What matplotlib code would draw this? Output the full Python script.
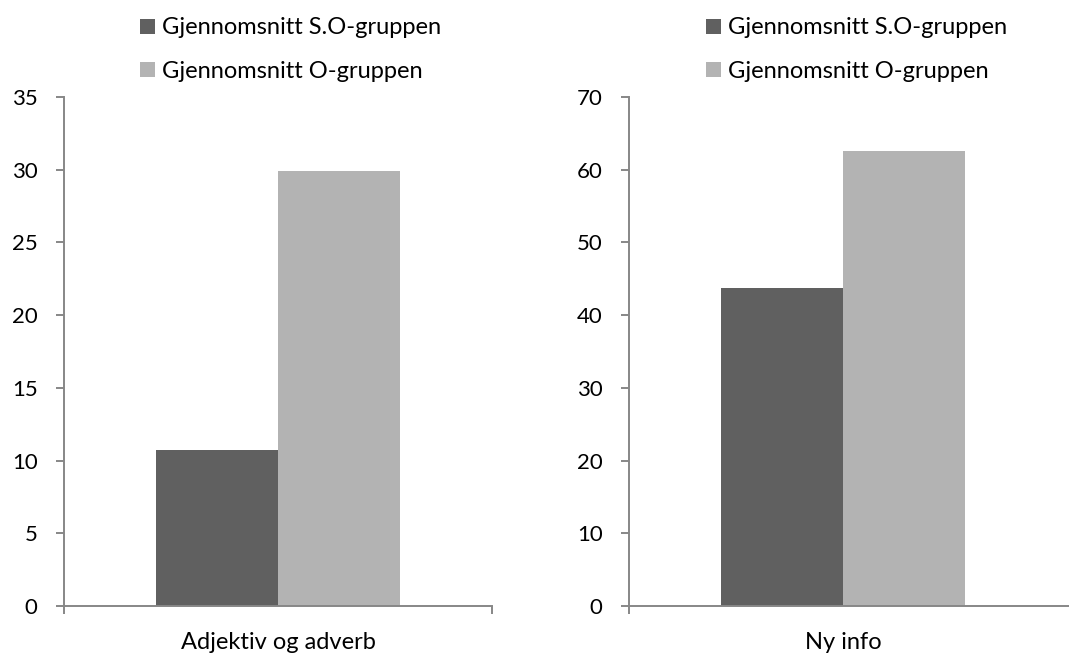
import matplotlib.pyplot as plt
from matplotlib.patches import Patch

plt.rcParams['font.family'] = ['Lato', 'DejaVu Sans']

series = ['Gjennomsnitt S.O-gruppen', 'Gjennomsnitt O-gruppen']
colors = ['#606060', '#b3b3b3']
left_cat = 'Adjektiv og adverb'
left_vals = [10.7, 29.9]
right_cat = 'Ny info'
right_vals = [43.8, 62.6]

W, H = 1069, 655
fig = plt.figure(figsize=(W / 100, H / 100), dpi=100)
axis_grey = '#878787'
fs = 17


def draw(ax, cat, vals, ymax, step, xmax, end_tick):
    bw = 0.2857
    ax.bar([-bw / 2, bw / 2], vals, width=bw, color=colors, zorder=2)
    ax.set_xlim(-0.5, xmax)
    ax.set_ylim(0, ymax)
    ax.set_yticks(range(0, ymax + 1, step))
    for s in ['top', 'right']:
        ax.spines[s].set_visible(False)
    for s in ['left', 'bottom']:
        ax.spines[s].set_color(axis_grey)
        ax.spines[s].set_linewidth(1.4)
    ax.tick_params(axis='y', length=6, width=1.4, color=axis_grey, pad=13,
                   labelsize=16)
    # category label on a zero-length major tick, edge ticks as minor ticks
    ax.set_xticks([0])
    ax.set_xticklabels([cat])
    ax.tick_params(axis='x', which='major', length=0, pad=19, labelsize=fs)
    ax.set_xticks([-0.5, 0.5] if end_tick else [-0.5], minor=True)
    ax.tick_params(axis='x', which='minor', length=6, width=1.4,
                   color=axis_grey, direction='out')


def legend(x0):
    handles = [Patch(facecolor=c, edgecolor='none') for c in colors]
    fig.legend(handles, series, loc='upper left',
               bbox_to_anchor=(x0 / W, 1 - 8 / H), frameon=False,
               fontsize=fs, handlelength=0.6, handleheight=0.6,
               handletextpad=0.3, labelspacing=0.95, borderaxespad=0)


bottom = 1 - 606 / H
height = 509 / H
ax1 = fig.add_axes([64 / W, bottom, 428 / W, height])
draw(ax1, left_cat, left_vals, 35, 5, 0.5, True)
ax2 = fig.add_axes([629 / W, bottom, (1080 - 629) / W, height])
draw(ax2, right_cat, right_vals, 70, 10, (1080 - 843) / 428, False)

legend(131)
legend(697)

fig.savefig('out.png', dpi=100)
